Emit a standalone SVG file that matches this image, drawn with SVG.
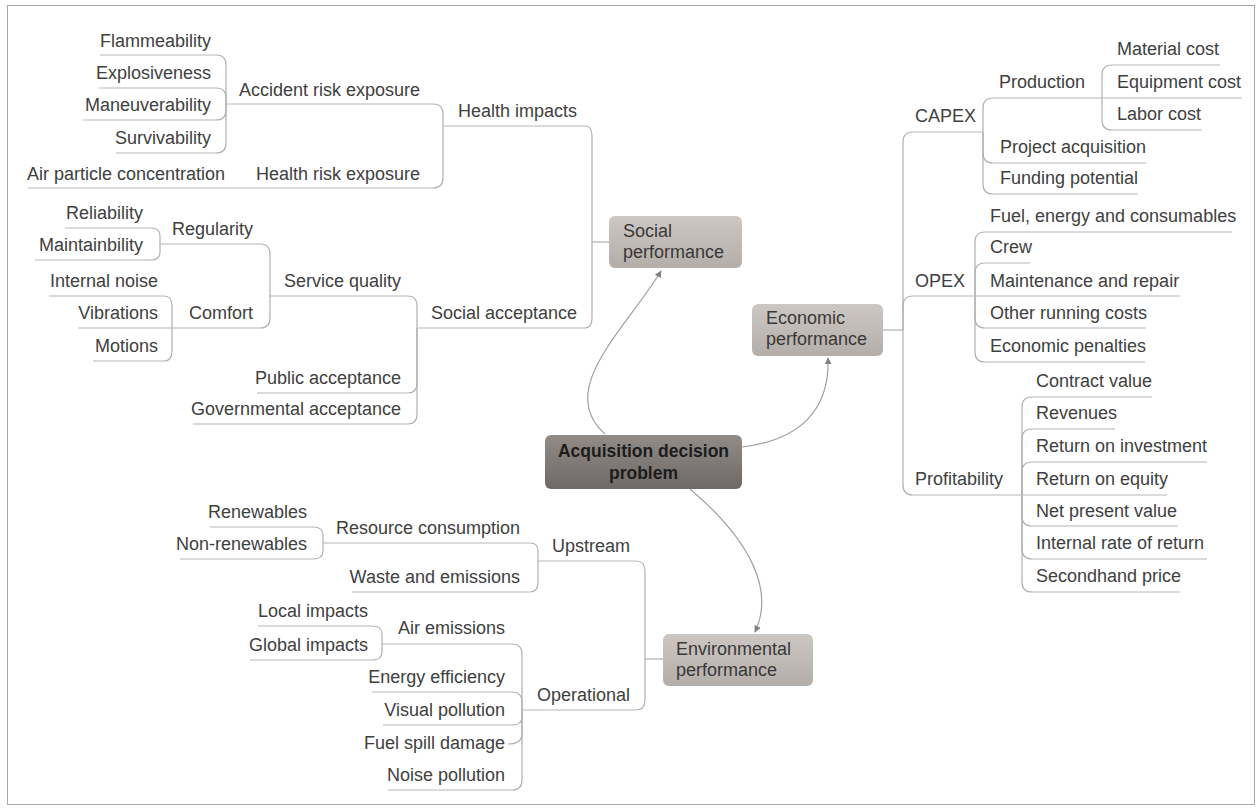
<svg xmlns="http://www.w3.org/2000/svg" width="1259" height="810" viewBox="0 0 1259 810">
  <style>
    .t { font-family: "Liberation Sans", Arial, sans-serif; font-size: 18px; fill: #404040; }
    .l { text-anchor: end; }
    .u { stroke: #b8b8b8; stroke-width: 1.2; fill: none; }
    .c { stroke: #b0b0b0; stroke-width: 1.2; fill: none; }
    .m { stroke: #a0a0a0; stroke-width: 1.2; fill: none; marker-end: url(#arrow); }
    .nt { font-family: "Liberation Sans", Arial, sans-serif; font-size: 18px; fill: #383838; }
    .ct { font-family: "Liberation Sans", Arial, sans-serif; font-size: 17.5px; font-weight: bold; fill: #1c1c1c; text-anchor: middle; }
  </style>
  <defs>
    <linearGradient id="gSub" x1="0" y1="0" x2="0" y2="1">
      <stop offset="0" stop-color="#cdc7c3"/>
      <stop offset="1" stop-color="#b4aeaa"/>
    </linearGradient>
    <linearGradient id="gMain" x1="0" y1="0" x2="0" y2="1">
      <stop offset="0" stop-color="#928c89"/>
      <stop offset="1" stop-color="#6e6966"/>
    </linearGradient>
    <marker id="arrow" viewBox="0 0 10 10" refX="9" refY="5" markerWidth="7" markerHeight="7" markerUnits="userSpaceOnUse" orient="auto">
      <path d="M0,0 L10,5 L0,10 z" fill="#808080"/>
    </marker>
  </defs>

  <rect x="0" y="0" width="1259" height="810" fill="#ffffff"/>
  <rect x="7.5" y="5.5" width="1247" height="799" fill="none" stroke="#a8a8a8" stroke-width="1"/>

  <!-- connectors -->
  <g id="connectors">
    <!-- main topic links -->
    <path class="m" d="M605,434 C555,390 625,330 661,271"/>
    <path class="m" d="M742,447 C800,440 830,410 828,358"/>
    <path class="m" d="M690,489 C750,540 775,590 755,632"/>

    <!-- accident risk exposure -->
    <path class="c" d="M216,55 Q226,55 226,65 L226,104"/>
    <path class="c" d="M216,88 Q226,88 226,98 L226,104"/>
    <path class="c" d="M216,120 Q226,120 226,110 L226,104"/>
    <path class="c" d="M216,153 Q226,153 226,143 L226,104"/>
    <!-- health impacts -->
    <path class="c" d="M433,104 Q443,104 443,114 L443,126"/>
    <path class="c" d="M433,188 Q443,188 443,178 L443,126"/>
    <!-- social performance -->
    <path class="c" d="M585,126 Q592,126 592,136 L592,242"/>
    <path class="c" d="M585,328 Q592,328 592,318 L592,242"/>
    <path class="c" d="M592,242 L609,242"/>
    <!-- social acceptance -->
    <path class="c" d="M408,296 Q417,296 417,306 L417,328"/>
    <path class="c" d="M408,393 Q417,393 417,383 L417,328"/>
    <path class="c" d="M408,424 Q417,424 417,414 L417,328"/>
    <!-- service quality -->
    <path class="c" d="M260,244 Q270,244 270,254 L270,296"/>
    <path class="c" d="M260,328 Q270,328 270,318 L270,296"/>
    <!-- regularity -->
    <path class="c" d="M151,228 Q160,228 160,236 L160,244"/>
    <path class="c" d="M151,260 Q160,260 160,252 L160,244"/>
    <!-- comfort -->
    <path class="c" d="M164,296 Q172,296 172,306 L172,328"/>
    <path class="c" d="M164,361 Q172,361 172,351 L172,328"/>

    <!-- environmental performance -->
    <path class="c" d="M636,561 Q645,561 645,571 L645,659"/>
    <path class="c" d="M636,710 Q645,710 645,700 L645,659"/>
    <path class="c" d="M645,659 L663,659"/>
    <!-- upstream -->
    <path class="c" d="M530,543 Q538,543 538,551 L538,561"/>
    <path class="c" d="M530,592 Q538,592 538,582 L538,561"/>
    <!-- resource consumption -->
    <path class="c" d="M313,527 Q323,527 323,535 L323,543"/>
    <path class="c" d="M313,559 Q323,559 323,551 L323,543"/>
    <!-- operational -->
    <path class="c" d="M512,644 Q522,644 522,654 L522,710"/>
    <path class="c" d="M512,692 Q522,692 522,702 L522,710"/>
    <path class="c" d="M512,725 Q522,725 522,717 L522,710"/>
    <path class="c" d="M508,744 Q522,744 522,734 L522,710"/>
    <path class="c" d="M512,790 Q522,790 522,780 L522,710"/>
    <!-- air emissions -->
    <path class="c" d="M372,626 Q382,626 382,634 L382,644"/>
    <path class="c" d="M372,660 Q382,660 382,652 L382,644"/>

    <!-- economic performance -->
    <path class="c" d="M883,330 L903,330"/>
    <path class="c" d="M913,132 Q903,132 903,142 L903,330"/>
    <path class="c" d="M913,296 Q903,296 903,306 L903,330"/>
    <path class="c" d="M913,495 Q903,495 903,485 L903,330"/>
    <!-- capex -->
    <path class="c" d="M993,98 Q983,98 983,108 L983,132"/>
    <path class="c" d="M993,163 Q983,163 983,153 L983,132"/>
    <path class="c" d="M993,194 Q983,194 983,184 L983,132"/>
    <!-- production -->
    <path class="c" d="M1112,65 Q1102,65 1102,75 L1102,98"/>
    <path class="c" d="M1112,130 Q1102,130 1102,120 L1102,98"/>
    <!-- opex -->
    <path class="c" d="M985,232 Q975,232 975,242 L975,296"/>
    <path class="c" d="M985,263 Q975,263 975,273 L975,296"/>
    <path class="c" d="M985,328 Q975,328 975,318 L975,296"/>
    <path class="c" d="M985,362 Q975,362 975,352 L975,296"/>
    <!-- profitability -->
    <path class="c" d="M1032,397 Q1022,397 1022,407 L1022,495"/>
    <path class="c" d="M1032,429 Q1022,429 1022,439 L1022,495"/>
    <path class="c" d="M1032,462 Q1022,462 1022,472 L1022,495"/>
    <path class="c" d="M1032,526 Q1022,526 1022,516 L1022,495"/>
    <path class="c" d="M1032,559 Q1022,559 1022,549 L1022,495"/>
    <path class="c" d="M1032,592 Q1022,592 1022,582 L1022,495"/>
  </g>

  <!-- main topics -->
  <g id="acquisition-decision-problem">
    <rect x="545" y="435" width="197" height="54" rx="6" fill="url(#gMain)"/>
    <text class="ct" x="643.5" y="457">Acquisition decision</text>
    <text class="ct" x="643.5" y="479">problem</text>
  </g>
  <g id="social-performance">
    <rect x="609" y="216" width="133" height="52" rx="6" fill="url(#gSub)"/>
    <text class="nt" x="623" y="237">Social</text>
    <text class="nt" x="623" y="258">performance</text>
  </g>
  <g id="economic-performance">
    <rect x="752" y="304" width="131" height="52" rx="6" fill="url(#gSub)"/>
    <text class="nt" x="766" y="324">Economic</text>
    <text class="nt" x="766" y="345">performance</text>
  </g>
  <g id="environmental-performance">
    <rect x="663" y="634" width="150" height="52" rx="6" fill="url(#gSub)"/>
    <text class="nt" x="676" y="655">Environmental</text>
    <text class="nt" x="676" y="676">performance</text>
  </g>

  <!-- social branch -->
  <g id="flammeability"><text class="t l" x="211" y="47">Flammeability</text><line class="u" x1="100" y1="55" x2="216" y2="55"/></g>
  <g id="explosiveness"><text class="t l" x="211" y="79">Explosiveness</text><line class="u" x1="99" y1="88" x2="216" y2="88"/></g>
  <g id="maneuverability"><text class="t l" x="211" y="111">Maneuverability</text><line class="u" x1="83" y1="120" x2="216" y2="120"/></g>
  <g id="survivability"><text class="t l" x="211" y="144">Survivability</text><line class="u" x1="116" y1="153" x2="216" y2="153"/></g>
  <g id="accident-risk-exposure"><text class="t l" x="420" y="96">Accident risk exposure</text><line class="u" x1="226" y1="104" x2="433" y2="104"/></g>
  <g id="air-particle-concentration"><text class="t l" x="225" y="180">Air particle concentration</text><line class="u" x1="28" y1="188" x2="240" y2="188"/></g>
  <g id="health-risk-exposure"><text class="t l" x="420" y="180">Health risk exposure</text><line class="u" x1="240" y1="188" x2="433" y2="188"/></g>
  <g id="health-impacts"><text class="t l" x="577" y="117">Health impacts</text><line class="u" x1="443" y1="126" x2="585" y2="126"/></g>
  <g id="reliability"><text class="t l" x="143" y="219">Reliability</text><line class="u" x1="65" y1="228" x2="151" y2="228"/></g>
  <g id="maintainbility"><text class="t l" x="143" y="251">Maintainbility</text><line class="u" x1="35" y1="260" x2="151" y2="260"/></g>
  <g id="regularity"><text class="t l" x="253" y="235">Regularity</text><line class="u" x1="160" y1="244" x2="260" y2="244"/></g>
  <g id="internal-noise"><text class="t l" x="158" y="287">Internal noise</text><line class="u" x1="49" y1="296" x2="164" y2="296"/></g>
  <g id="vibrations"><text class="t l" x="158" y="319">Vibrations</text><line class="u" x1="78" y1="328" x2="172" y2="328"/></g>
  <g id="motions"><text class="t l" x="158" y="352">Motions</text><line class="u" x1="93" y1="361" x2="164" y2="361"/></g>
  <g id="comfort"><text class="t l" x="253" y="319">Comfort</text><line class="u" x1="172" y1="328" x2="260" y2="328"/></g>
  <g id="service-quality"><text class="t l" x="401" y="287">Service quality</text><line class="u" x1="270" y1="296" x2="408" y2="296"/></g>
  <g id="public-acceptance"><text class="t l" x="401" y="384">Public acceptance</text><line class="u" x1="257" y1="393" x2="408" y2="393"/></g>
  <g id="governmental-acceptance"><text class="t l" x="401" y="415">Governmental acceptance</text><line class="u" x1="193" y1="424" x2="408" y2="424"/></g>
  <g id="social-acceptance"><text class="t l" x="577" y="319">Social acceptance</text><line class="u" x1="417" y1="328" x2="585" y2="328"/></g>

  <!-- environmental branch -->
  <g id="renewables"><text class="t l" x="307" y="518">Renewables</text><line class="u" x1="210" y1="527" x2="313" y2="527"/></g>
  <g id="non-renewables"><text class="t l" x="307" y="550">Non-renewables</text><line class="u" x1="180" y1="559" x2="313" y2="559"/></g>
  <g id="resource-consumption"><text class="t l" x="520" y="534">Resource consumption</text><line class="u" x1="323" y1="543" x2="530" y2="543"/></g>
  <g id="waste-and-emissions"><text class="t l" x="520" y="583">Waste and emissions</text><line class="u" x1="352" y1="592" x2="530" y2="592"/></g>
  <g id="upstream"><text class="t l" x="630" y="552">Upstream</text><line class="u" x1="538" y1="561" x2="636" y2="561"/></g>
  <g id="local-impacts"><text class="t l" x="368" y="617">Local impacts</text><line class="u" x1="258" y1="626" x2="372" y2="626"/></g>
  <g id="global-impacts"><text class="t l" x="368" y="651">Global impacts</text><line class="u" x1="250" y1="660" x2="372" y2="660"/></g>
  <g id="air-emissions"><text class="t l" x="505" y="634">Air emissions</text><line class="u" x1="382" y1="644" x2="512" y2="644"/></g>
  <g id="energy-efficiency"><text class="t l" x="505" y="683">Energy efficiency</text><line class="u" x1="372" y1="692" x2="512" y2="692"/></g>
  <g id="visual-pollution"><text class="t l" x="505" y="716">Visual pollution</text><line class="u" x1="383" y1="725" x2="512" y2="725"/></g>
  <g id="fuel-spill-damage"><text class="t l" x="505" y="749">Fuel spill damage</text></g>
  <g id="noise-pollution"><text class="t l" x="505" y="781">Noise pollution</text><line class="u" x1="388" y1="790" x2="512" y2="790"/></g>
  <g id="operational"><text class="t l" x="630" y="701">Operational</text><line class="u" x1="522" y1="710" x2="636" y2="710"/></g>

  <!-- economic branch -->
  <g id="capex"><text class="t" x="915" y="122">CAPEX</text><line class="u" x1="913" y1="132" x2="983" y2="132"/></g>
  <g id="production"><text class="t" x="999" y="88">Production</text><line class="u" x1="993" y1="98" x2="1102" y2="98"/></g>
  <g id="material-cost"><text class="t" x="1117" y="55">Material cost</text><line class="u" x1="1112" y1="65" x2="1220" y2="65"/></g>
  <g id="equipment-cost"><text class="t" x="1117" y="88">Equipment cost</text><line class="u" x1="1102" y1="98" x2="1242" y2="98"/></g>
  <g id="labor-cost"><text class="t" x="1117" y="120">Labor cost</text><line class="u" x1="1112" y1="130" x2="1202" y2="130"/></g>
  <g id="project-acquisition"><text class="t" x="1000" y="153">Project acquisition</text><line class="u" x1="993" y1="163" x2="1146" y2="163"/></g>
  <g id="funding-potential"><text class="t" x="1000" y="184">Funding potential</text><line class="u" x1="993" y1="194" x2="1138" y2="194"/></g>
  <g id="opex"><text class="t" x="915" y="287">OPEX</text><line class="u" x1="913" y1="296" x2="975" y2="296"/></g>
  <g id="fuel-energy-consumables"><text class="t" x="990" y="222">Fuel, energy and consumables</text><line class="u" x1="985" y1="232" x2="1232" y2="232"/></g>
  <g id="crew"><text class="t" x="990" y="253">Crew</text><line class="u" x1="985" y1="263" x2="1030" y2="263"/></g>
  <g id="maintenance-and-repair"><text class="t" x="990" y="287">Maintenance and repair</text><line class="u" x1="975" y1="296" x2="1180" y2="296"/></g>
  <g id="other-running-costs"><text class="t" x="990" y="319">Other running costs</text><line class="u" x1="985" y1="328" x2="1146" y2="328"/></g>
  <g id="economic-penalties"><text class="t" x="990" y="352">Economic penalties</text><line class="u" x1="985" y1="362" x2="1145" y2="362"/></g>
  <g id="profitability"><text class="t" x="915" y="485">Profitability</text><line class="u" x1="913" y1="495" x2="1022" y2="495"/></g>
  <g id="contract-value"><text class="t" x="1036" y="387">Contract value</text><line class="u" x1="1032" y1="397" x2="1152" y2="397"/></g>
  <g id="revenues"><text class="t" x="1036" y="419">Revenues</text><line class="u" x1="1032" y1="429" x2="1115" y2="429"/></g>
  <g id="return-on-investment"><text class="t" x="1036" y="452">Return on investment</text><line class="u" x1="1032" y1="462" x2="1207" y2="462"/></g>
  <g id="return-on-equity"><text class="t" x="1036" y="485">Return on equity</text><line class="u" x1="1022" y1="495" x2="1167" y2="495"/></g>
  <g id="net-present-value"><text class="t" x="1036" y="517">Net present value</text><line class="u" x1="1032" y1="526" x2="1178" y2="526"/></g>
  <g id="internal-rate-of-return"><text class="t" x="1036" y="549">Internal rate of return</text><line class="u" x1="1032" y1="559" x2="1207" y2="559"/></g>
  <g id="secondhand-price"><text class="t" x="1036" y="582">Secondhand price</text><line class="u" x1="1032" y1="592" x2="1180" y2="592"/></g>
</svg>
